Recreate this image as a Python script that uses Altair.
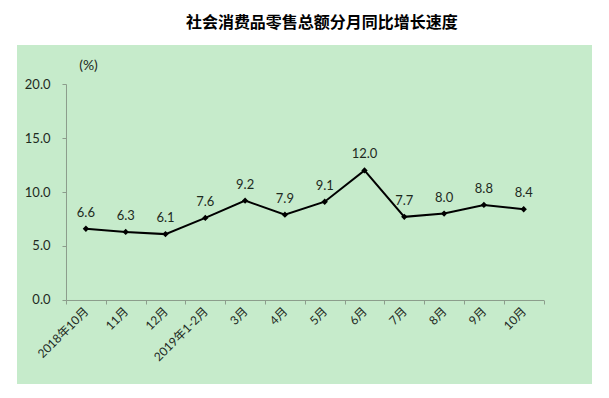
import altair as alt
import pandas as pd

categories = ["2018年10月", "11月", "12月", "2019年1-2月", "3月", "4月",
              "5月", "6月", "7月", "8月", "9月", "10月"]
values = [6.6, 6.3, 6.1, 7.6, 9.2, 7.9, 9.1, 12.0, 7.7, 8.0, 8.8, 8.4]
y_ticks = [0, 5, 10, 15, 20]
title_text = "社会消费品零售总额分月同比增长速度"
unit_text = "(%)"

df = pd.DataFrame({"cat": categories, "val": values})

FONT = "Lato, Noto Sans CJK SC"
TEXT_COLOR = "#1e2a1e"
AXIS_COLOR = "#8c9c8c"
GREEN = "#c6ebcb"

panel = alt.Chart(alt.Data(values=[{}])).mark_rect(color=GREEN).encode(
    x=alt.value(-49), x2=alt.value(526), y=alt.value(-39), y2=alt.value(300)
)

x_enc = alt.X(
    "cat:N",
    sort=categories,
    bandPosition=0.5,
    scale=alt.Scale(type="band", paddingInner=0, paddingOuter=0),
    axis=alt.Axis(
        title="",
        labelAngle=-45,
        labelAlign="right",
        labelBaseline="middle",
        labelFont=FONT,
        labelFontSize=12,
        labelColor=TEXT_COLOR,
        labelPadding=5,
        tickBand="extent",
        tickSize=4,
        tickColor=AXIS_COLOR,
        domainColor=AXIS_COLOR,
        zindex=1,
    ),
)
y_enc = alt.Y(
    "val:Q",
    scale=alt.Scale(domain=[0, 20]),
    axis=alt.Axis(
        values=y_ticks,
        format=".1f",
        grid=False,
        title=unit_text,
        titleAngle=0,
        titleX=22,
        titleY=-19,
        titleAlign="center",
        titleBaseline="middle",
        titleFont=FONT,
        titleFontSize=14,
        titleFontWeight="normal",
        titleColor=TEXT_COLOR,
        labelFont=FONT,
        labelFontSize=13,
        labelColor=TEXT_COLOR,
        labelPadding=12,
        tickSize=4,
        tickColor=AXIS_COLOR,
        domainColor=AXIS_COLOR,
        zindex=1,
    ),
)

base = alt.Chart(df).encode(x=x_enc, y=y_enc)
line = base.mark_line(color="#000000", strokeWidth=2)
pts = base.mark_point(shape="diamond", filled=True, size=40, color="#000000", opacity=1)
labels = base.mark_text(dy=-16, fontSize=13, font=FONT, color=TEXT_COLOR).encode(
    text=alt.Text("val:Q", format=".1f")
)

chart = alt.layer(panel, line, pts, labels).properties(
    width=477.6,
    height=216,
    background="white",
    padding={"left": 58, "top": 76, "right": 55, "bottom": 90},
    autosize=alt.AutoSizeParams(type="none"),
    title=alt.TitleParams(
        text=title_text,
        font="Noto Sans CJK SC",
        fontSize=16,
        fontWeight="bold",
        color="#000000",
        anchor="middle",
        frame="group",
        dx=17,
        offset=14,
    ),
).configure_view(stroke=None)

chart.save("out.html", embed_options={"renderer": "svg", "actions": False})
